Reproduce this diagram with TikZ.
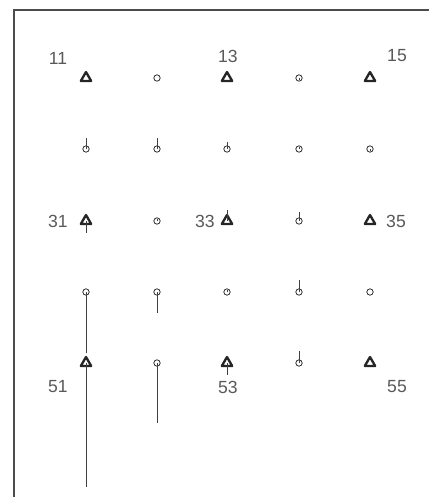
\documentclass[tikz,border=0pt]{standalone}
\usepackage{fontspec}
\setsansfont{Liberation Sans}
\usetikzlibrary{shapes.geometric}
\begin{document}
\begin{tikzpicture}[
x=0.03cm,y=-0.03cm,
tri/.style={regular polygon,regular polygon sides=3,draw=black!85,line width=2pt,line join=round,minimum size=0.36cm,inner sep=0pt},
ring/.style={circle,draw=black!80,line width=0.7pt,minimum size=0.19cm,inner sep=0pt},
stem/.style={draw=black!75,line width=0.7pt},
lab/.style={font=\sffamily\fontsize{15}{17}\selectfont,text=black!65,inner sep=0pt},
frame/.style={draw=black!70,line width=0.9pt}
]
\useasboundingbox (0,0) rectangle (429,497);
\draw[frame] (14,497) -- (14,10) -- (429,10);
% stations, row by row
\node[tri](s11) at (86,78){};
\node[ring](s12) at (157,78){};
\node[tri](s13) at (227,78){};
\node[ring](s14) at (299,78){};
\node[tri](s15) at (370,78){};
\node[ring](s21) at (86,149){};
\node[ring](s22) at (157,149){};
\node[ring](s23) at (227,149){};
\node[ring](s24) at (299,149){};
\node[ring](s25) at (370,149){};
\node[tri](s31) at (86,221){};
\node[ring](s32) at (157,221){};
\node[tri](s33) at (227,221){};
\node[ring](s34) at (299,221){};
\node[tri](s35) at (370,221){};
\node[ring](s41) at (86,292){};
\node[ring](s42) at (157,292){};
\node[ring](s43) at (227,292){};
\node[ring](s44) at (299,292){};
\node[ring](s45) at (370,292){};
\node[tri](s51) at (86,363){};
\node[ring](s52) at (157,363){};
\node[tri](s53) at (227,363){};
\node[ring](s54) at (299,363){};
\node[tri](s55) at (370,363){};
% stem ends
\coordinate (e14) at (299,80);
\coordinate (e21) at (86,138);
\coordinate (e22) at (157,138);
\coordinate (e23) at (227,142);
\coordinate (e24) at (299,147);
\coordinate (e25) at (370,151);
\coordinate (e31) at (86,233);
\coordinate (e32) at (157,219);
\coordinate (e33) at (227,210);
\coordinate (e34) at (299,212);
\coordinate (e41) at (86,353);
\coordinate (e42) at (157,313);
\coordinate (e43) at (227,290);
\coordinate (e44) at (299,280);
\coordinate (e51) at (86,487);
\coordinate (e52) at (157,423);
\coordinate (e53) at (227,375);
\coordinate (e54) at (299,351);
\draw[stem] (s14.center) -- (e14);
\draw[stem] (s21.center) -- (e21);
\draw[stem] (s22.center) -- (e22);
\draw[stem] (s23.center) -- (e23);
\draw[stem] (s24.center) -- (e24);
\draw[stem] (s25.center) -- (e25);
\draw[stem] (s31.center) -- (e31);
\draw[stem] (s32.center) -- (e32);
\draw[stem] (s33.center) -- (e33);
\draw[stem] (s34.center) -- (e34);
\draw[stem] (s41.center) -- (e41);
\draw[stem] (s42.center) -- (e42);
\draw[stem] (s43.center) -- (e43);
\draw[stem] (s44.center) -- (e44);
\draw[stem] (s51.center) -- (e51);
\draw[stem] (s52.center) -- (e52);
\draw[stem] (s53.center) -- (e53);
\draw[stem] (s54.center) -- (e54);
% labels
\node[lab](l11) at (58,58){11};
\node[lab](l13) at (228,56){13};
\node[lab](l15) at (397,56){15};
\node[lab](l31) at (58,221){31};
\node[lab](l33) at (205,221){33};
\node[lab](l35) at (396,221){35};
\node[lab](l51) at (58,387){51};
\node[lab](l53) at (228,387){53};
\node[lab](l55) at (397,387){55};
\end{tikzpicture}
\end{document}
